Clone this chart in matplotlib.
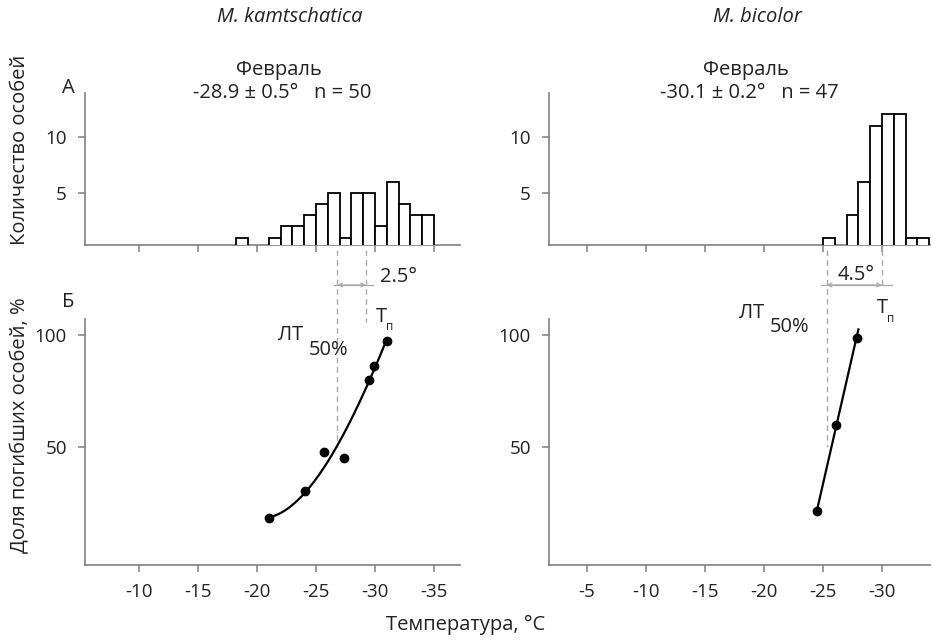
import numpy as np
import matplotlib
matplotlib.use("Agg")
import matplotlib.pyplot as plt

plt.rcParams['font.family'] = ['Open Sans', 'DejaVu Sans']
plt.rcParams['font.size'] = 13

# ---------------- data ----------------
species = ["M. kamtschatica", "M. bicolor"]
month = "Февраль"
stats = ["-28.9 ± 0.5°   n = 50", "-30.1 ± 0.2°   n = 47"]

# histograms (bin centres, 1 °C bins)
kam_bin_centers = [-18.7, -21.5, -22.5, -23.5, -24.5, -25.5, -26.5, -27.5,
                   -28.5, -29.5, -30.5, -31.5, -32.5, -33.5, -34.5]
kam_counts = [1, 1, 2, 2, 3, 4, 5, 1, 5, 5, 2, 6, 4, 3, 3]
bic_bin_centers = [-25.5, -27.5, -28.5, -29.5, -30.5, -31.5, -32.5, -33.5]
bic_counts = [1, 3, 6, 11, 12, 12, 1, 1]

# mortality points
kam_temp = [-21.0, -24.1, -25.7, -27.4, -29.5, -29.9, -31.0]
kam_mort = [18.4, 30.5, 47.9, 45.0, 79.9, 86.2, 97.3]
# fitted curve
kam_curve_t = [-21.0, -24.1, -25.8, -26.75, -27.6, -28.45, -29.5, -30.85]
kam_curve_m = [18.4, 30.5, 41.2, 50.1, 57.6, 68.0, 80.0, 95.8]

bic_temp = [-24.5, -26.1, -27.85]
bic_mort = [21.4, 59.8, 98.5]
bic_line_range = [-24.5, -28.0]

# LT50 and Tп
lt50 = [-26.8, -25.3]
tp = [-29.25, -30.0]
diff_labels = ["2.5°", "4.5°"]

left_xticks = [-10, -15, -20, -25, -30, -35]
right_xticks = [-5, -10, -15, -20, -25, -30]
hist_yticks = [5, 10]
mort_yticks = [50, 100]

# ---------------- layout ----------------
W, H = 933, 642
fig = plt.figure(figsize=(W / 100, H / 100), dpi=100)


def rect(x0, y0, x1, y1):
    return [x0 / W, 1 - y1 / H, (x1 - x0) / W, (y1 - y0) / H]


def fpos(x, y):
    return x / W, 1 - y / H


TXT = '#222222'
SPN = '#808080'
DASH = '#aaaaaa'
FS = 14.5

ax_hl = fig.add_axes(rect(85, 93, 460, 245))
ax_hr = fig.add_axes(rect(549, 93, 930, 245))
ax_ml = fig.add_axes(rect(85, 319, 460, 565))
ax_mr = fig.add_axes(rect(549, 319, 930, 565))

xlims = [(-5.42, -37.2), (-1.78, -34.07)]
xticks = [left_xticks, right_xticks]

for i, (axh, axm) in enumerate([(ax_hl, ax_ml), (ax_hr, ax_mr)]):
    for ax in (axh, axm):
        ax.set_xlim(*xlims[i])
        ax.set_xticks(xticks[i])
        for s in ('top', 'right'):
            ax.spines[s].set_visible(False)
        for s in ('left', 'bottom'):
            ax.spines[s].set_color(SPN)
            ax.spines[s].set_linewidth(1.2)
        ax.tick_params(direction='out', length=5, width=1.1, color=SPN,
                       labelcolor=TXT, labelsize=13.5, pad=8)
    axh.set_ylim(0.35, 13.9)
    axh.set_yticks(hist_yticks)
    axh.tick_params(axis='x', labelbottom=False)
    axm.set_ylim(-2.7, 107.1)
    axm.set_yticks(mort_yticks)
    axm.set_xticklabels([str(t) for t in xticks[i]])

# histograms
ax_hl.bar(kam_bin_centers, kam_counts, width=1.0, color='white',
          edgecolor='black', linewidth=1.3, zorder=3)
ax_hr.bar(bic_bin_centers, bic_counts, width=1.0, color='white',
          edgecolor='black', linewidth=1.3, zorder=3)

# mortality curves
cf = np.polyfit(kam_curve_t, kam_curve_m, 3)
tt = np.linspace(min(kam_temp), max(kam_temp), 200)
ax_ml.plot(tt, np.polyval(cf, tt), color='black', lw=1.6, zorder=3)
ax_ml.plot(kam_temp, kam_mort, 'o', color='black', ms=6, zorder=4)

lf = np.polyfit(bic_temp, bic_mort, 1)
tb = np.linspace(bic_line_range[0], bic_line_range[1], 50)
ax_mr.plot(tb, np.polyval(lf, tb), color='black', lw=1.6, zorder=3)
ax_mr.plot(bic_temp, bic_mort, 'o', color='black', ms=6, zorder=4)

# dashed guides, arrows and annotations
top_val = 137.9
tp_bottom = [105.8, 121.0]
arrow_y = 122.3
ext = [(0.25, 0.6), (0.45, 0.85)]
lt_pos = [((-22.85, 100.0), (-26.05, 93.3)), ((-18.96, 109.7), (-22.2, 103.7))]
tp_pos = [((-30.57, 108.2), (-31.27, 103.7)), ((-30.06, 111.9), (-30.74, 107.5))]
diff_pos = [(-30.4, 125.9, 'left'), (-27.85, 126.8, 'center')]

for i, ax in enumerate([ax_ml, ax_mr]):
    ax.plot([lt50[i], lt50[i]], [top_val, 50], ls=(0, (4, 3)), color=DASH,
            lw=1.0, clip_on=False, zorder=2)
    ax.plot([tp[i], tp[i]], [top_val, tp_bottom[i]], ls=(0, (4, 3)),
            color=DASH, lw=1.0, clip_on=False, zorder=2)
    e0, e1 = ext[i]
    ax.plot([lt50[i] + e0, tp[i] - e1], [arrow_y, arrow_y], color=DASH,
            lw=0.9, clip_on=False)
    ax.annotate('', xy=(tp[i], arrow_y), xytext=(lt50[i], arrow_y),
                xycoords='data', annotation_clip=False,
                arrowprops=dict(arrowstyle='<->', color=DASH, lw=0.9,
                                mutation_scale=7, shrinkA=0, shrinkB=0))
    dx, dy, ha = diff_pos[i]
    ax.text(dx, dy, diff_labels[i], ha=ha, va='center', color=TXT,
            fontsize=FS, clip_on=False)
    (lx, ly), (sx, sy) = lt_pos[i]
    ax.text(lx, ly, 'ЛТ', ha='center', va='center', color=TXT, fontsize=FS,
            clip_on=False)
    ax.text(sx, sy, '50%', ha='center', va='center', color=TXT, fontsize=FS,
            clip_on=False)
    (tx, ty), (px_, py_) = tp_pos[i]
    ax.text(tx, ty, 'T', ha='center', va='center', color=TXT, fontsize=FS,
            clip_on=False)
    ax.text(px_, py_, 'п', ha='center', va='center', color=TXT, fontsize=8.5,
            clip_on=False)

# titles and header texts
title_x = [290, 757]
for i in range(2):
    fig.text(*fpos(title_x[i], 17), species[i], ha='center', va='center',
             style='italic', color=TXT, fontsize=14.5)
    fig.text(*fpos(title_x[i] - 11, 70), month, ha='center', va='center',
             color=TXT, fontsize=FS)
    fig.text(*fpos(title_x[i] - 8, 93), stats[i], ha='center', va='center',
             color=TXT, fontsize=FS)

fig.text(*fpos(68, 88), 'А', ha='center', va='center', color=TXT, fontsize=FS)
fig.text(*fpos(68, 302), 'Б', ha='center', va='center', color=TXT, fontsize=FS)
fig.text(*fpos(20, 150), 'Количество особей', rotation=90, ha='center',
         va='center', color=TXT, fontsize=FS)
fig.text(*fpos(20, 425), 'Доля погибших особей, %', rotation=90, ha='center',
         va='center', color=TXT, fontsize=FS)
fig.text(*fpos(466, 625), 'Температура, °C', ha='center', va='center',
         color=TXT, fontsize=FS)

fig.savefig('out.png', dpi=100)
